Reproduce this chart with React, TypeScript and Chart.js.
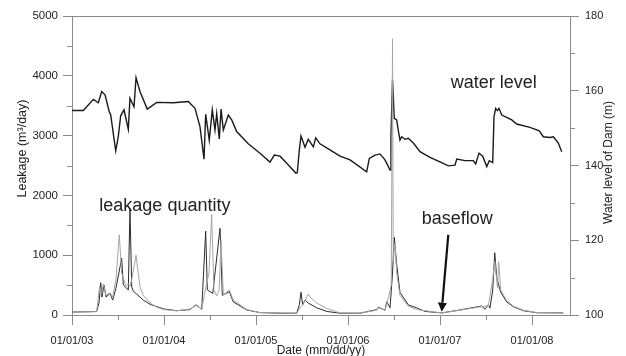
import React, { useEffect, useRef } from "react";
import { Chart, registerables } from "chart.js";

Chart.register(...registerables);

// ---- Data (x in fractional years) ----
const xTickYears = [2003, 2004, 2005, 2006, 2007, 2008];
const leftTicks = [0, 1000, 2000, 3000, 4000, 5000];
const rightTicks = [100, 120, 140, 160, 180];

// Water level of dam (m), right axis
const wlX = [2003.0, 2003.123, 2003.232, 2003.286, 2003.323, 2003.359, 2003.405, 2003.421, 2003.475, 2003.503, 2003.529, 2003.565, 2003.612, 2003.63, 2003.674, 2003.696, 2003.739, 2003.818, 2003.921, 2004.101, 2004.264, 2004.337, 2004.391, 2004.435, 2004.453, 2004.492, 2004.525, 2004.554, 2004.573, 2004.601, 2004.62, 2004.645, 2004.699, 2004.736, 2004.79, 2004.916, 2005.043, 2005.152, 2005.199, 2005.261, 2005.334, 2005.435, 2005.449, 2005.471, 2005.489, 2005.533, 2005.568, 2005.623, 2005.649, 2005.696, 2005.804, 2005.913, 2006.022, 2006.203, 2006.232, 2006.293, 2006.348, 2006.402, 2006.457, 2006.467, 2006.484, 2006.503, 2006.529, 2006.546, 2006.565, 2006.584, 2006.62, 2006.655, 2006.71, 2006.783, 2006.891, 2007.0, 2007.09, 2007.163, 2007.182, 2007.272, 2007.362, 2007.388, 2007.424, 2007.464, 2007.508, 2007.536, 2007.573, 2007.587, 2007.605, 2007.623, 2007.641, 2007.671, 2007.725, 2007.779, 2007.834, 2007.978, 2008.079, 2008.123, 2008.196, 2008.232, 2008.286, 2008.323];
const wlY = [154.7, 154.7, 157.7, 156.8, 159.8, 158.9, 154.4, 153.5, 143.9, 147.7, 153.3, 154.9, 149.7, 158.0, 155.7, 163.5, 159.8, 155.1, 156.9, 156.8, 157.1, 155.3, 150.4, 141.7, 153.7, 146.8, 154.9, 149.5, 153.9, 147.1, 155.1, 149.5, 153.5, 152.2, 149.1, 145.8, 143.3, 140.9, 142.8, 142.5, 140.6, 137.9, 138.1, 144.2, 147.9, 144.9, 147.0, 145.0, 147.4, 145.8, 144.2, 142.5, 141.5, 138.3, 141.9, 142.8, 143.1, 141.5, 138.8, 147.7, 163.0, 152.6, 152.2, 149.5, 146.8, 147.7, 147.0, 147.3, 146.0, 143.7, 142.2, 141.0, 139.9, 140.1, 141.7, 141.3, 141.3, 140.4, 143.3, 142.5, 139.7, 141.3, 140.8, 153.1, 155.3, 154.7, 155.3, 153.5, 152.9, 152.2, 151.1, 150.2, 149.3, 147.7, 147.5, 147.7, 146.0, 143.7];

// Leakage (m3/day), dark line
const lkDarkX = [2003.0, 2003.2, 2003.268, 2003.293, 2003.312, 2003.325, 2003.348, 2003.37, 2003.413, 2003.442, 2003.478, 2003.54, 2003.558, 2003.612, 2003.63, 2003.649, 2003.666, 2003.739, 2003.775, 2003.848, 2003.921, 2004.0, 2004.138, 2004.283, 2004.348, 2004.41, 2004.453, 2004.471, 2004.53, 2004.609, 2004.634, 2004.71, 2004.753, 2004.899, 2005.043, 2005.261, 2005.442, 2005.471, 2005.489, 2005.507, 2005.533, 2005.568, 2005.66, 2005.768, 2005.913, 2006.13, 2006.312, 2006.329, 2006.402, 2006.421, 2006.457, 2006.484, 2006.503, 2006.529, 2006.565, 2006.655, 2006.747, 2006.837, 2007.018, 2007.217, 2007.416, 2007.453, 2007.489, 2007.525, 2007.543, 2007.573, 2007.595, 2007.616, 2007.638, 2007.66, 2007.725, 2007.797, 2007.905, 2008.051, 2008.34];
const lkDarkY = [50, 55, 60, 200, 540, 300, 500, 300, 360, 250, 450, 950, 500, 420, 1780, 470, 400, 300, 250, 180, 140, 100, 72, 90, 170, 95, 1400, 420, 360, 1450, 330, 390, 220, 84, 40, 30, 30, 170, 380, 170, 250, 200, 120, 60, 30, 30, 90, 130, 80, 220, 120, 700, 1300, 850, 380, 170, 120, 60, 35, 84, 140, 150, 95, 170, 115, 420, 1040, 640, 500, 380, 220, 140, 72, 38, 35];

// Leakage (m3/day), grey line
const lkGreyX = [2003.0, 2003.268, 2003.3, 2003.32, 2003.34, 2003.37, 2003.413, 2003.442, 2003.478, 2003.514, 2003.54, 2003.587, 2003.612, 2003.63, 2003.65, 2003.696, 2003.739, 2003.775, 2003.848, 2003.921, 2004.0, 2004.138, 2004.283, 2004.348, 2004.41, 2004.46, 2004.489, 2004.518, 2004.543, 2004.573, 2004.6, 2004.62, 2004.645, 2004.71, 2004.753, 2004.899, 2005.043, 2005.442, 2005.48, 2005.52, 2005.568, 2005.6, 2005.66, 2005.768, 2005.913, 2006.13, 2006.312, 2006.329, 2006.402, 2006.43, 2006.47, 2006.484, 2006.492, 2006.511, 2006.529, 2006.565, 2006.655, 2006.747, 2007.018, 2007.217, 2007.416, 2007.453, 2007.525, 2007.573, 2007.595, 2007.625, 2007.638, 2007.66, 2007.725, 2007.797, 2007.905, 2008.051, 2008.34];
const lkGreyY = [50, 55, 480, 350, 520, 330, 370, 300, 600, 1340, 700, 480, 520, 480, 600, 1000, 470, 330, 200, 130, 90, 70, 100, 160, 100, 500, 700, 1680, 420, 320, 420, 1250, 330, 420, 250, 90, 40, 30, 120, 200, 350, 280, 200, 110, 35, 30, 80, 120, 80, 230, 500, 4620, 900, 1200, 700, 330, 150, 90, 35, 80, 130, 140, 150, 600, 900, 450, 891, 420, 240, 150, 80, 40, 35];

// Annotations (data coordinates)
const labelWater = { text: "water level", x: 2007.116, y: 3795 };
const labelLeak = { text: "leakage quantity", x: 2003.297, y: 1739 };
const labelBase = { text: "baseflow", x: 2006.801, y: 1527 };
const arrowTail = { x: 2007.09, y: 1340 };
const arrowTip = { x: 2007.018, y: 55 };

const FONT = '"Liberation Sans", Arial, Helvetica, sans-serif';
const AXIS = "#8a8a8a";
const TEXT = "#222";

const pairs = (xs: number[], ys: number[]) => xs.map((x, i) => ({ x, y: ys[i] }));
const yy = (y: number) => String(y % 100).padStart(2, "0");

const decor = {
  id: "decor",
  afterDraw(chart: any) {
    const { ctx, chartArea: a, scales } = chart;
    const sx = scales.x, sy = scales.y, sy1 = scales.y1;
    ctx.save();
    ctx.strokeStyle = AXIS;
    ctx.lineWidth = 1;
    // top frame line
    ctx.beginPath();
    ctx.moveTo(a.left, Math.round(a.top) + 0.5);
    ctx.lineTo(a.right, Math.round(a.top) + 0.5);
    ctx.stroke();
    // minor ticks
    const ml = 5;
    ctx.beginPath();
    for (let i = 0; i < leftTicks.length - 1; i++) {
      const p = Math.round(sy.getPixelForValue((leftTicks[i] + leftTicks[i + 1]) / 2)) + 0.5;
      ctx.moveTo(a.left - ml, p); ctx.lineTo(a.left, p);
    }
    for (let i = 0; i < rightTicks.length - 1; i++) {
      const p = Math.round(sy1.getPixelForValue((rightTicks[i] + rightTicks[i + 1]) / 2)) + 0.5;
      ctx.moveTo(a.right, p); ctx.lineTo(a.right + ml, p);
    }
    for (let i = 0; i < xTickYears.length; i++) {
      const p = Math.round(sx.getPixelForValue(xTickYears[i] + 0.5)) + 0.5;
      if (p < a.right) { ctx.moveTo(p, a.bottom); ctx.lineTo(p, a.bottom + ml); }
    }
    ctx.stroke();

    // y axis titles
    ctx.fillStyle = TEXT;
    ctx.textAlign = "center";
    ctx.textBaseline = "middle";
    ctx.font = `12.5px ${FONT}`;
    ctx.save();
    ctx.translate(23, (a.top + a.bottom) / 2 - 17);
    ctx.rotate(-Math.PI / 2);
    ctx.fillText("Leakage (m\u00b3/day)", 0, 0);
    ctx.restore();
    ctx.font = `12px ${FONT}`;
    ctx.save();
    ctx.translate(a.right + 39, (a.top + a.bottom) / 2 - 3);
    ctx.rotate(-Math.PI / 2);
    ctx.fillText("Water level of Dam (m)", 0, 0);
    ctx.restore();

    // text annotations
    ctx.font = `18px ${FONT}`;
    ctx.textAlign = "left";
    ctx.textBaseline = "alphabetic";
    for (const l of [labelWater, labelLeak, labelBase]) {
      ctx.fillText(l.text, sx.getPixelForValue(l.x), sy.getPixelForValue(l.y));
    }
    // arrow
    const x0 = sx.getPixelForValue(arrowTail.x), y0 = sy.getPixelForValue(arrowTail.y);
    const x1 = sx.getPixelForValue(arrowTip.x), y1 = sy.getPixelForValue(arrowTip.y);
    const ang = Math.atan2(y1 - y0, x1 - x0);
    const hl = 9, hw = 4.5;
    const bx = x1 - hl * Math.cos(ang), by = y1 - hl * Math.sin(ang);
    ctx.strokeStyle = "#111";
    ctx.lineWidth = 2.2;
    ctx.beginPath();
    ctx.moveTo(x0, y0);
    ctx.lineTo(bx, by);
    ctx.stroke();
    ctx.fillStyle = "#111";
    ctx.beginPath();
    ctx.moveTo(x1, y1);
    ctx.lineTo(bx + hw * Math.sin(ang), by - hw * Math.cos(ang));
    ctx.lineTo(bx - hw * Math.sin(ang), by + hw * Math.cos(ang));
    ctx.closePath();
    ctx.fill();
    ctx.restore();
  },
};

export default function App() {
  const ref = useRef<HTMLCanvasElement | null>(null);
  useEffect(() => {
    document.body.style.margin = "0";
    const canvas = ref.current;
    if (!canvas) return;
    const chart = new Chart(canvas, {
      type: "line",
      data: {
        datasets: [
          {
            label: "Leakage grey",
            data: pairs(lkGreyX, lkGreyY),
            yAxisID: "y",
            borderColor: "#a6a6a6",
            borderWidth: 1,
            pointRadius: 0,
            tension: 0,
            order: 1,
          },
          {
            label: "Leakage dark",
            data: pairs(lkDarkX, lkDarkY),
            yAxisID: "y",
            borderColor: "#2a2a2a",
            borderWidth: 1,
            pointRadius: 0,
            tension: 0,
            order: 2,
          },
          {
            label: "Water level",
            data: pairs(wlX, wlY),
            yAxisID: "y1",
            borderColor: "#1a1a1a",
            borderWidth: 1.4,
            pointRadius: 0,
            tension: 0,
            order: 3,
          },
        ],
      },
      options: {
        responsive: false,
        animation: false,
        parsing: false as any,
        layout: { padding: { top: 16, left: 0, right: 0, bottom: 0 } },
        plugins: { legend: { display: false }, tooltip: { enabled: false } },
        scales: {
          x: {
            type: "linear",
            min: 2003,
            max: 2008.413,
            afterBuildTicks: (s: any) => {
              s.ticks = xTickYears.map((v) => ({ value: v }));
            },
            afterFit: (s: any) => {
              s.height = 41;
            },
            ticks: {
              callback: (v: any) => `01/01/${yy(Number(v))}`,
              color: TEXT,
              font: { family: FONT, size: 11 },
              padding: 9,
              maxRotation: 0,
              autoSkip: false,
            },
            grid: { drawOnChartArea: false, drawTicks: true, tickLength: 10, tickColor: AXIS, color: AXIS },
            border: { display: true, color: AXIS },
            title: {
              display: true,
              text: "Date (mm/dd/yy)",
              color: TEXT,
              font: { family: FONT, size: 12, lineHeight: 1 },
              padding: { top: 0, bottom: -1 },
            },
          },
          y: {
            type: "linear",
            position: "left",
            min: 0,
            max: 5000,
            afterBuildTicks: (s: any) => {
              s.ticks = leftTicks.map((v) => ({ value: v }));
            },
            afterFit: (s: any) => {
              s.width = 72;
            },
            ticks: { callback: (v: any) => String(v), color: TEXT, font: { family: FONT, size: 11.5 }, padding: 5 },
            grid: { drawOnChartArea: false, drawTicks: true, tickLength: 9, tickColor: AXIS, color: AXIS },
            border: { display: true, color: AXIS },
          },
          y1: {
            type: "linear",
            position: "right",
            min: 100,
            max: 180,
            afterBuildTicks: (s: any) => {
              s.ticks = rightTicks.map((v) => ({ value: v }));
            },
            afterFit: (s: any) => {
              s.width = 56;
            },
            ticks: { callback: (v: any) => String(v), color: TEXT, font: { family: FONT, size: 11 }, padding: 6 },
            grid: { drawOnChartArea: false, drawTicks: true, tickLength: 9, tickColor: AXIS, color: AXIS },
            border: { display: true, color: AXIS },
          },
        },
      },
      plugins: [decor],
    });
    return () => chart.destroy();
  }, []);
  return (
    <div style={{ width: 626, height: 356 }}>
      <canvas ref={ref} width={626} height={356} style={{ display: "block" }} />
    </div>
  );
}
